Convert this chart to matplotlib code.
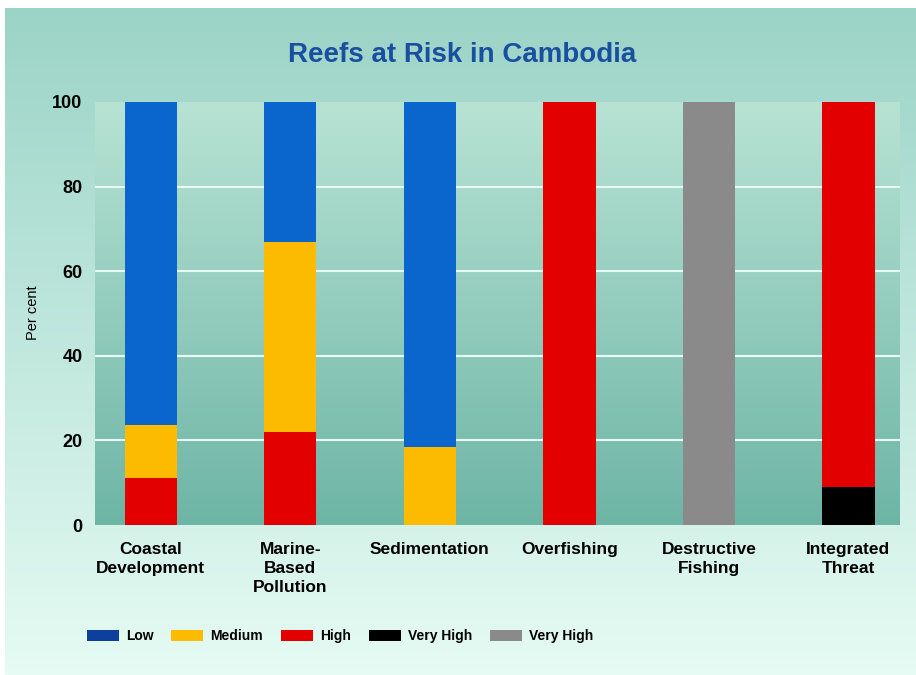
import numpy as np
import matplotlib.pyplot as plt
from matplotlib.patches import Patch

# Data (per cent of reefs)
categories = ['Coastal\nDevelopment', 'Marine-\nBased\nPollution', 'Sedimentation',
              'Overfishing', 'Destructive\nFishing', 'Integrated\nThreat']
very_high_black = [0, 0, 0, 0, 0, 9]
very_high_grey = [0, 0, 0, 0, 100, 0]
high = [11, 22, 0, 100, 0, 91]
medium = [12.6, 45, 18.4, 0, 0, 0]
low = [76.4, 33, 81.6, 0, 0, 0]
yticks = [0, 20, 40, 60, 80, 100]

c_low, c_med, c_high = '#0a66cc', '#fdbb00', '#e30000'
c_black, c_grey = '#000000', '#8a8a8a'
legend_labels = ['Low', 'Medium', 'High', 'Very High', 'Very High']
legend_colors = ['#0d3f9e', c_med, c_high, c_black, c_grey]

fonts = ['Liberation Sans', 'DejaVu Sans']

fig = plt.figure(figsize=(9.16, 6.75), dpi=100)
fig.patch.set_facecolor('white')

# outer gradient panel
bg = fig.add_axes([5 / 916, 0, 911 / 916, 1 - 8 / 675], zorder=-10)
grad = np.linspace(0, 1, 256).reshape(-1, 1)
top = np.array([0.61, 0.83, 0.78])
bot = np.array([0.90, 0.985, 0.955])
img = top + (bot - top) * grad[:, :, None]
bg.imshow(img, aspect='auto', extent=[0, 1, 0, 1])
bg.set_axis_off()

ax = fig.add_axes([95 / 916, 1 - 525 / 675, (900 - 95) / 916, (525 - 102) / 675])
x = np.arange(len(categories))
ax.set_xlim(-0.4, 5.37)
ax.set_ylim(0, 100)

# plot-area gradient
ptop = np.array([0.72, 0.89, 0.83])
pbot = np.array([0.43, 0.71, 0.65])
pimg = ptop + (pbot - ptop) * grad[:, :, None]
ax.imshow(pimg, aspect='auto', extent=[-0.4, 5.37, 0, 100], zorder=0)

for yv in yticks[1:-1]:
    ax.axhline(yv, color='#e8fbf5', lw=1.5, zorder=1)

w = 0.375
bottom = np.zeros(len(categories))
for vals, col in [(very_high_black, c_black), (very_high_grey, c_grey),
                  (high, c_high), (medium, c_med), (low, c_low)]:
    ax.bar(x, vals, w, bottom=bottom, color=col, zorder=2)
    bottom += np.array(vals)

for s in ax.spines.values():
    s.set_visible(False)
ax.set_yticks(yticks)
ax.set_yticklabels([str(v) for v in yticks], fontsize=13, fontweight='bold',
                   family=fonts)
ax.set_xticks(x)
ax.set_xticklabels(categories, fontsize=12.5, fontweight='bold', family=fonts,
                   linespacing=1.35, va='top')
ax.tick_params(length=0, pad=9)
ax.tick_params(axis='x', pad=12)

fig.text(33 / 916, 1 - 313 / 675, 'Per cent', rotation=90, ha='center', va='center',
         fontsize=10.5, family=fonts)

fig.text(0.505, 1 - 55 / 675, 'Reefs at Risk in Cambodia', ha='center', va='center',
         fontsize=20, fontweight='bold', color='#1a4fa0', family=fonts)

handles = [Patch(facecolor=c, edgecolor='none') for c in legend_colors]
fig.legend(handles, legend_labels, loc='center', bbox_to_anchor=(340 / 916, 1 - 636 / 675),
           ncol=5, frameon=False, handlelength=2.3, handleheight=0.85, columnspacing=1.3,
           handletextpad=0.5, prop={'family': fonts, 'weight': 'bold', 'size': 10})

fig.savefig('out.png', dpi=100)
